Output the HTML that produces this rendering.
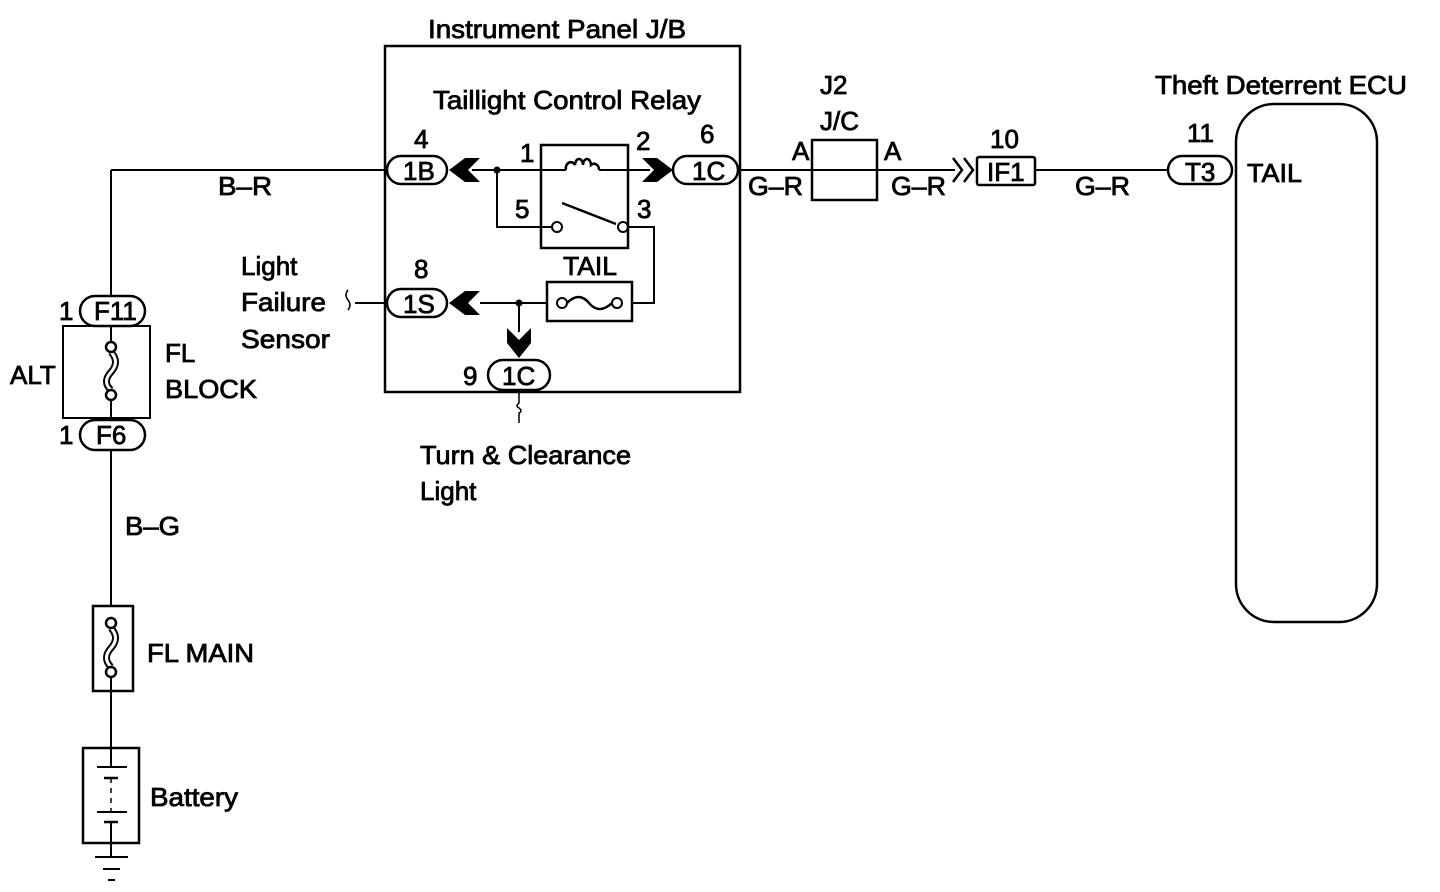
<!DOCTYPE html>
<html><head><meta charset="utf-8"><style>
html,body{margin:0;padding:0;background:#fff;}
svg{display:block;}
text{font-family:"Liberation Sans",Arial,sans-serif;font-size:26px;fill:#000;stroke:#000;stroke-width:0.8;}
</style></head><body>
<svg width="1440" height="892" viewBox="0 0 1440 892" xmlns="http://www.w3.org/2000/svg">
<g fill="none" stroke="#000" stroke-width="2">
<rect x="385" y="46" width="355" height="346" stroke-width="2.5"/>
<line x1="111" y1="170" x2="387" y2="170"/>
<line x1="111" y1="170" x2="111" y2="296"/>
<line x1="472" y1="170" x2="566" y2="170"/>
<line x1="599" y1="170" x2="650" y2="170"/>
<line x1="738" y1="170" x2="955" y2="170"/>
<line x1="1035" y1="170" x2="1168" y2="170"/>
<rect x="387" y="156" width="60" height="28" rx="14" stroke-width="2.5"/>
<rect x="673" y="156" width="65" height="28" rx="14" stroke-width="2.5"/>
<rect x="541" y="145" width="87" height="103" stroke-width="2.5"/>
<path d="M566 170 a5 6 0 0 1 9 -5 a4 6 0 0 1 8 0 a4 6 0 0 1 8 0 a5 6 0 0 1 8 5" stroke-width="2.5"/>
<circle cx="557" cy="227" r="5"/>
<circle cx="623" cy="227" r="5"/>
<line x1="562" y1="203" x2="616" y2="224" stroke-width="2.5"/>
<polyline points="497,170 497,227 552,227"/>
<polyline points="628,227 654,227 654,303 632,303"/>
<rect x="547" y="282" width="85" height="39" stroke-width="2.5"/>
<circle cx="562" cy="303" r="5"/>
<circle cx="617" cy="303" r="5"/>
<path d="M567 303 q12 -12 22 0 q10 12 23 0" stroke-width="2.5"/>
<line x1="480" y1="303" x2="547" y2="303"/>
<line x1="519" y1="303" x2="519" y2="332"/>
<rect x="387" y="289" width="60" height="28" rx="14" stroke-width="2.5"/>
<rect x="488" y="360" width="62" height="30" rx="15" stroke-width="2.5"/>
<path d="M519 393 v10 q-4 3 0 5 q4 3 0 5 v10" stroke-width="1.5"/>
<line x1="355" y1="303" x2="387" y2="303"/>
<path d="M348 290 q-4 5 0 10 q4 5 0 10" stroke-width="1.5"/>
<rect x="80" y="296" width="65" height="30" rx="15" stroke-width="2.5"/>
<rect x="63" y="326" width="87" height="92" stroke-width="2"/>
<line x1="111" y1="326" x2="111" y2="342"/>
<line x1="111" y1="400" x2="111" y2="418"/>
<path d="M111 352 q9 10 0 20 q-9 10 0 18" stroke-width="7"/>
<path d="M111 352 q9 10 0 20 q-9 10 0 18" stroke="#fff" stroke-width="3"/>
<circle cx="111" cy="347" r="5" fill="#fff" stroke-width="2.5"/>
<circle cx="111" cy="395" r="5" fill="#fff" stroke-width="2.5"/>
<rect x="80" y="420" width="65" height="30" rx="15" stroke-width="2.5"/>
<line x1="111" y1="450" x2="111" y2="606"/>
<rect x="93" y="606" width="40" height="85" stroke-width="2.5"/>
<path d="M111 628 q9 10 0 20 q-9 10 0 19" stroke-width="7"/>
<path d="M111 628 q9 10 0 20 q-9 10 0 19" stroke="#fff" stroke-width="3"/>
<circle cx="111" cy="623" r="5" fill="#fff" stroke-width="2.5"/>
<circle cx="111" cy="672" r="5" fill="#fff" stroke-width="2.5"/>
<line x1="111" y1="677" x2="111" y2="767"/>
<rect x="83" y="748" width="56" height="95" stroke-width="2.5"/>
<line x1="97" y1="767" x2="127" y2="767"/>
<line x1="104" y1="778" x2="118" y2="778" stroke-width="2.5"/>
<line x1="111" y1="778" x2="111" y2="812" stroke-dasharray="5,5" stroke-width="1.5"/>
<line x1="97" y1="812" x2="127" y2="812"/>
<line x1="104" y1="822" x2="118" y2="822" stroke-width="2.5"/>
<line x1="111" y1="822" x2="111" y2="857"/>
<line x1="95" y1="857" x2="128" y2="857"/>
<line x1="103" y1="869" x2="120" y2="869"/>
<line x1="108" y1="880" x2="115" y2="880"/>
<rect x="812" y="140" width="65" height="60" stroke-width="2.5"/>
<polyline points="953,158 962,170 953,182" stroke-width="2.5"/>
<polyline points="964,158 973,170 964,182" stroke-width="2.5"/>
<rect x="977" y="157" width="58" height="28" rx="2" stroke-width="2.5"/>
<rect x="1168" y="156" width="64" height="28" rx="14" stroke-width="2.5"/>
<rect x="1236" y="104" width="141" height="518" rx="38" stroke-width="2.5"/>
</g>
<g fill="#000" stroke="none">
<circle cx="497" cy="170" r="3.5"/>
<circle cx="519" cy="303" r="3.5"/>
<polygon points="449,170 465,158 480,158 468,170 480,182 465,182"/>
<polygon points="449,303 465,291 480,291 468,303 480,315 465,315"/>
<polygon points="673,170 657,158 642,158 654,170 642,182 657,182"/>
<polygon points="519,358 507,343 507,328 519,340 531,328 531,343"/>
</g>
<text x="428" y="38" textLength="258" lengthAdjust="spacingAndGlyphs">Instrument Panel J/B</text>
<text x="433" y="109" textLength="268" lengthAdjust="spacingAndGlyphs">Taillight Control Relay</text>
<text x="414" y="148">4</text>
<text x="700" y="143">6</text>
<text x="520" y="162">1</text>
<text x="636" y="150">2</text>
<text x="515" y="218">5</text>
<text x="637" y="218">3</text>
<text x="403" y="180">1B</text>
<text x="692" y="180">1C</text>
<text x="563" y="275" textLength="54" lengthAdjust="spacingAndGlyphs">TAIL</text>
<text x="414" y="278">8</text>
<text x="403" y="313">1S</text>
<text x="463" y="385">9</text>
<text x="502" y="385">1C</text>
<text x="420" y="464" textLength="211" lengthAdjust="spacingAndGlyphs">Turn &amp; Clearance</text>
<text x="420" y="500">Light</text>
<text x="241" y="275">Light</text>
<text x="241" y="311" textLength="85" lengthAdjust="spacingAndGlyphs">Failure</text>
<text x="241" y="348" textLength="89" lengthAdjust="spacingAndGlyphs">Sensor</text>
<text x="218" y="195" textLength="54" lengthAdjust="spacingAndGlyphs">B–R</text>
<text x="59" y="320">1</text>
<text x="94" y="320">F11</text>
<text x="59" y="444">1</text>
<text x="96" y="444">F6</text>
<text x="10" y="384">ALT</text>
<text x="165" y="362">FL</text>
<text x="165" y="398" textLength="92" lengthAdjust="spacingAndGlyphs">BLOCK</text>
<text x="125" y="535" textLength="55" lengthAdjust="spacingAndGlyphs">B–G</text>
<text x="147" y="662" textLength="107" lengthAdjust="spacingAndGlyphs">FL MAIN</text>
<text x="150" y="806" textLength="88" lengthAdjust="spacingAndGlyphs">Battery</text>
<text x="820" y="94">J2</text>
<text x="820" y="130">J/C</text>
<text x="792" y="160">A</text>
<text x="884" y="160">A</text>
<text x="748" y="195" textLength="55" lengthAdjust="spacingAndGlyphs">G–R</text>
<text x="891" y="195" textLength="55" lengthAdjust="spacingAndGlyphs">G–R</text>
<text x="990" y="148">10</text>
<text x="987" y="181">IF1</text>
<text x="1075" y="195" textLength="55" lengthAdjust="spacingAndGlyphs">G–R</text>
<text x="1187" y="142">11</text>
<text x="1185" y="181">T3</text>
<text x="1247" y="182" textLength="55" lengthAdjust="spacingAndGlyphs">TAIL</text>
<text x="1155" y="94" textLength="252" lengthAdjust="spacingAndGlyphs">Theft Deterrent ECU</text>
</svg>
</body></html>
